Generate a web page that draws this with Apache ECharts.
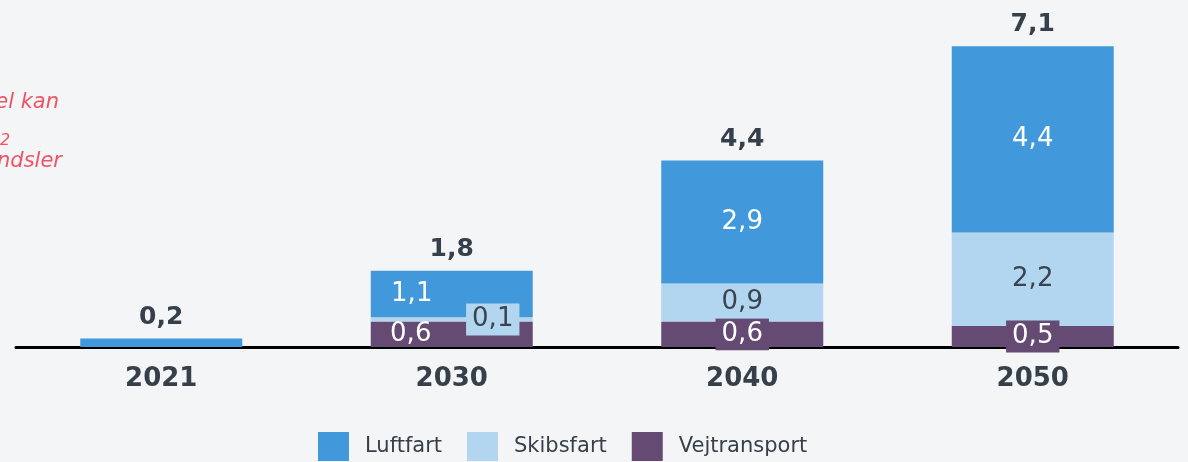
<!DOCTYPE html>
<html>
<head>
<meta charset="utf-8">
<script src="https://cdn.jsdelivr.net/npm/echarts@6/dist/echarts.min.js"></script>
<style>
	html, body {margin: 0; padding: 0; background: #f4f5f7;}
	#chart {width: 1188px; height: 462px;}
</style>
</head>
<body>
<div id="chart"></div>
<script type="text/javascript">
var categories = ['2021', '2030', '2040', '2050'];
var luftfart = [0.2, 1.1, 2.9, 4.4];
var skibsfart = [0, 0.1, 0.9, 2.2];
var vejtransport = [0, 0.6, 0.6, 0.5];
var totals = [0.2, 1.8, 4.4, 7.1];

var FONT = 'DejaVu Sans';
var TXT = '#36404a';

function fmt(v) {
	return String(v).replace('.', ',');
}

// zero values get no label
function items(arr) {
	return arr.map(function(v) {
		var it = {value: v};
		if (v === 0) {
			it.label = {show: false};
		}
		return it;
	});
}

var vejData = items(vejtransport);
vejData[1].label = {offset: [-41, 0], backgroundColor: 'transparent'};
var skibData = items(skibsfart);
skibData[1].label = {offset: [41, 0]};
var luftData = items(luftfart);
luftData[0].label = {show: false};
luftData[1].label = {offset: [-40, 0]};

var chart = echarts.init(document.getElementById('chart'));
chart.setOption({
	backgroundColor: '#f4f5f7',
	animation: false,
	grid: {left: 16, right: 10, top: 8, bottom: 115},
	legend: {
		data: ['Luftfart', 'Skibsfart', 'Vejtransport'],
		left: 313,
		top: 427,
		itemWidth: 31,
		itemHeight: 29,
		itemGap: 25,
		icon: 'rect',
		textStyle: {fontFamily: FONT, fontSize: 21, color: TXT, padding: [0, 0, 0, 11]}
	},
	xAxis: {
		type: 'category',
		data: categories,
		axisLine: {lineStyle: {color: '#000', width: 3}},
		axisTick: {show: false},
		axisLabel: {fontFamily: FONT, fontSize: 26, fontWeight: 'bold', color: TXT, margin: 19}
	},
	yAxis: {type: 'value', show: false, min: 0, max: 8},
	series: [
		{
			name: 'Vejtransport',
			type: 'bar',
			stack: 'total',
			barWidth: 162,
			itemStyle: {color: '#654a73'},
			label: {
				show: true, position: 'inside', formatter: function(p) { return fmt(p.value); },
				fontFamily: FONT, fontSize: 26, color: '#fff',
				backgroundColor: '#654a73', padding: [3, 6]
			},
			data: vejData
		},
		{
			name: 'Skibsfart',
			type: 'bar',
			stack: 'total',
			barWidth: 162,
			itemStyle: {color: '#b2d6f0'},
			label: {
				show: true, position: 'inside', formatter: function(p) { return fmt(p.value); },
				fontFamily: FONT, fontSize: 26, color: '#3a4450',
				backgroundColor: '#b2d6f0', padding: [3, 6]
			},
			data: skibData
		},
		{
			name: 'Luftfart',
			type: 'bar',
			stack: 'total',
			barWidth: 162,
			itemStyle: {color: '#4199db'},
			label: {
				show: true, position: 'inside', formatter: function(p) { return fmt(p.value); },
				fontFamily: FONT, fontSize: 26, color: '#fff'
			},
			data: luftData
		},
		{
			name: 'Total',
			type: 'scatter',
			symbolSize: 0,
			z: 5,
			itemStyle: {opacity: 1},
			label: {
				show: true, position: 'top', distance: 9,
				formatter: function(p) { return fmt(p.value); },
				fontFamily: FONT, fontSize: 25, fontWeight: 'bold', color: TXT, opacity: 1
			},
			data: totals
		}
	],
	graphic: [
		{type: 'text', right: 1129, top: 92, style: {text: 'el kan', font: 'italic 21px "DejaVu Sans"', fill: '#ef5466'}},
		{type: 'text', left: 0, top: 133, style: {text: '2', font: 'italic 16px "DejaVu Sans"', fill: '#ef5466'}},
		{type: 'text', right: 1126, top: 151, style: {text: 'ndsler', font: 'italic 21px "DejaVu Sans"', fill: '#ef5466'}}
	]
});
</script>
</body>
</html>
